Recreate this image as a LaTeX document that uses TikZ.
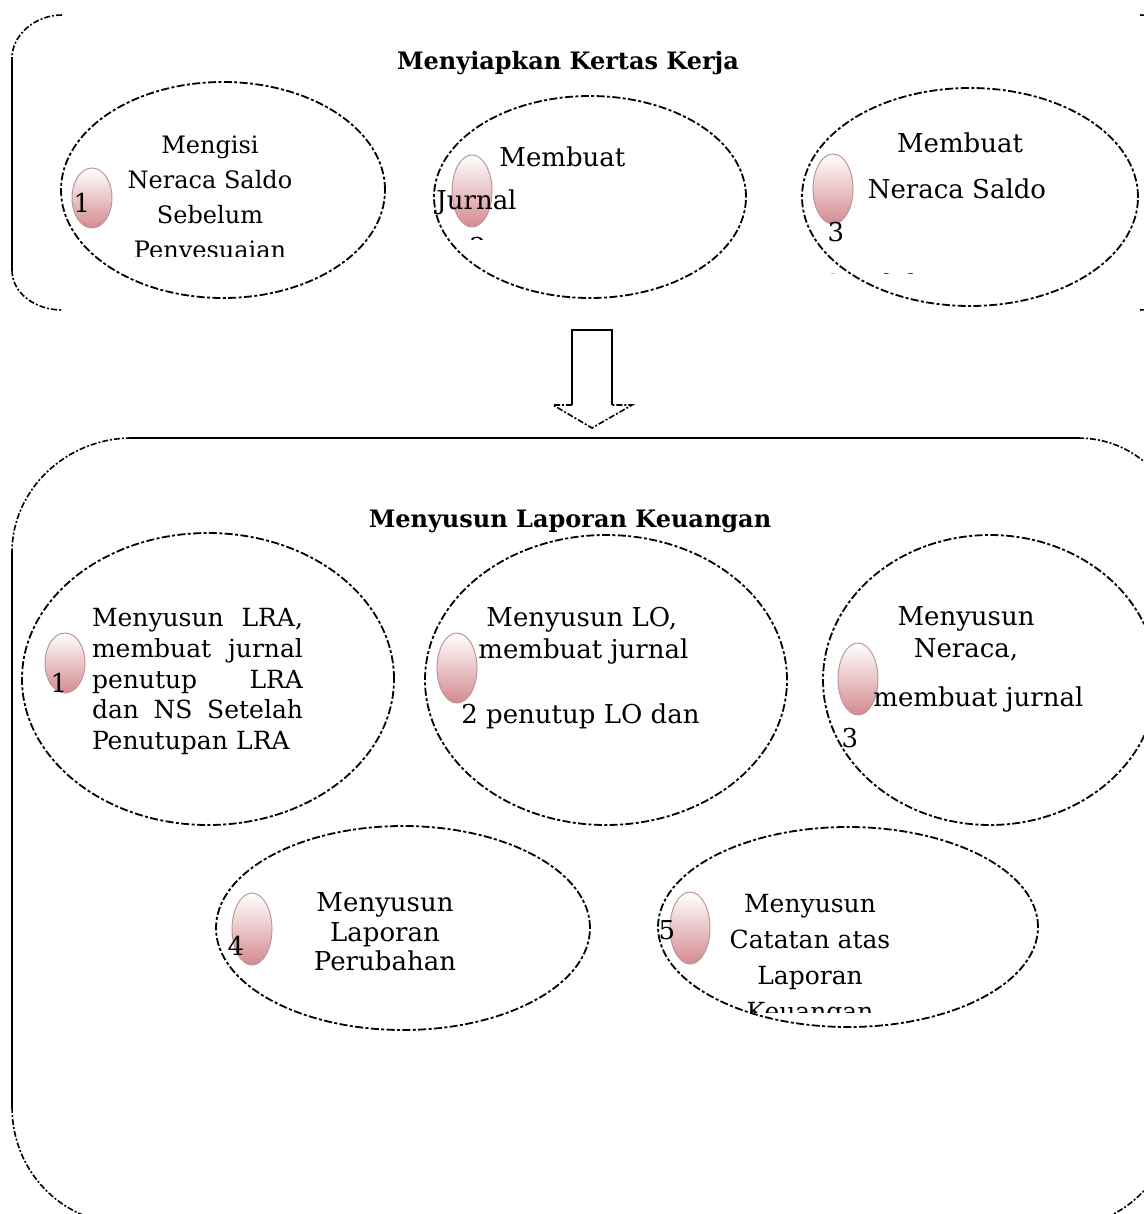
\documentclass[tikz,border=0pt]{standalone}
\usepackage{fontspec}
\setmainfont{DejaVu Serif}
\usetikzlibrary{shapes.geometric}

\definecolor{beadpink}{RGB}{212,138,144}
\definecolor{beadedge}{RGB}{188,150,156}

\tikzset{
  stage/.style={draw, ellipse, line width=0.9pt, dash pattern=on 4pt off 1.2pt on 1.5pt off 1.2pt, inner sep=0pt},
  bead/.style={ellipse, draw=beadedge, line width=0.5pt, top color=white, bottom color=beadpink, minimum width=20pt, minimum height=35pt, inner sep=0pt},
  txt/.style={font=\fontsize{13}{17.5}\selectfont, align=center, inner sep=0pt},
  heading/.style={font=\fontsize{12}{14}\selectfont\bfseries, inner sep=0pt},
  frameline/.style={line width=0.8pt},
  framecurve/.style={line width=0.8pt, dash pattern=on 3pt off 1pt on 1pt off 1pt},
}

\begin{document}
\begin{tikzpicture}[x=0.5pt, y=-0.5pt]
  \clip (0,0) rectangle (1144,1214);

  % Frames
  \draw[framecurve] (62,15) .. controls (35,15) and (12,35) .. (12,58);
  \draw[frameline] (12,58) -- (12,270);
  \draw[framecurve] (12,270) .. controls (12,293) and (35,310) .. (62,310);
  \draw[framecurve] (1140,15) .. controls (1165,15) and (1185,35) .. (1185,58);
  \draw[framecurve] (1140,310) .. controls (1165,310) and (1185,293) .. (1185,270);

  \draw[frameline] (132,438) -- (1078,438);
  \draw[frameline] (12,552) -- (12,1107);
  \draw[framecurve] (132,438) .. controls (66,438) and (12,490) .. (12,552);
  \draw[framecurve] (1078,438) .. controls (1140,438) and (1185,490) .. (1185,552);
  \draw[framecurve] (12,1107) .. controls (12,1170) and (60,1222) .. (125,1224);
  \draw[framecurve] (1185,1085) .. controls (1185,1150) and (1140,1222) .. (1075,1224);

  % Block arrow
  \draw[frameline] (572,405) -- (572,330) -- (612,330) -- (612,405);
  \draw[framecurve] (572,405) -- (553,405) -- (592,428) -- (632,405) -- (612,405);

  % Headings
  \node[heading] (kertas) at (568,63) {Menyiapkan Kertas Kerja};
  \node[heading] (laporan) at (570,521) {Menyusun Laporan Keuangan};

  % Stage ellipses: name/x/y/half width/half height
  \foreach \name/\x/\y/\w/\h in {s1/223/190/162/108, s2/590/197/156/101, s3/970/197/168/109,
      s4/208/679/186/146, s5/606/680/181/145, s6/990/680/167/145,
      s7/403/928/187/102, s8/848/927/190/100} {
    \node[stage, minimum width=\w pt, minimum height=\h pt] (\name) at (\x,\y) {};
  }

  % Beads
  \foreach \name/\x/\y/\h in {b1/92/198/30, b2/472/191/36, b3/833/189/35, b4/65/663/30,
      b5/457/668/35, b6/858/679/36, b7/252/929/36, b8/690/928/36} {
    \node[bead, minimum height=\h pt] (\name) at (\x,\y) {};
  }

  % Texts of the first stage
  \begin{scope}
    \clip (0,0) rectangle (1144,256);
    \node[txt, font=\fontsize{12}{17.5}\selectfont] (t1) at (210,200) {Mengisi\\Neraca Saldo\\Sebelum\\Penyesuaian};
  \end{scope}
  \node[txt] (n1) at (82,203) {1};

  \node[txt, anchor=west] (t2a) at (499,157) {Membuat};
  \node[txt, anchor=west] (t2b) at (436,202) {Jurnal};
  \begin{scope}
    \clip (0,0) rectangle (1144,240);
    \node[txt] (n2) at (478,247) {2};
  \end{scope}

  \node[txt] (t3a) at (960,143) {Membuat};
  \node[txt] (t3b) at (957,189) {Neraca Saldo};
  \node[txt] (n3) at (836,232) {3};
  \begin{scope}
    \clip (0,0) rectangle (1144,273);
    \node[txt, anchor=west] (t3c) at (824,284) {Setelah};
  \end{scope}

  % Texts of the second stage
  \node[txt, text width=105.5pt, align=left, font=\fontsize{12.5}{15.4}\selectfont] (t4) at (197.5,681.5)
    {Menyusun\hfill LRA,\\ membuat\hfill jurnal\\ penutup\hfill LRA\\ dan\hfill NS\hfill Setelah\\ Penutupan LRA};
  \node[txt] (n4) at (59,683) {1};

  \node[txt, anchor=west] (t5a) at (486,620) {Menyusun LO,};
  \node[txt, anchor=west] (t5b) at (478,652) {membuat jurnal};
  \node[txt, anchor=west] (t5c) at (461,716) {2 penutup LO dan};

  \node[txt] (t6a) at (966,619) {Menyusun};
  \node[txt] (t6b) at (966,650) {Neraca,};
  \node[txt, anchor=west] (t6c) at (873,700) {membuat jurnal};
  \node[txt] (n6) at (850,738) {3};

  \node[txt, font=\fontsize{13}{14.8}\selectfont] (t7) at (385,932) {Menyusun\\Laporan\\Perubahan};
  \node[txt] (n7) at (236,946) {4};

  \begin{scope}
    \clip (0,0) rectangle (1144,1012);
    \node[txt, font=\fontsize{12.5}{18}\selectfont] (t8) at (810,960) {Menyusun\\Catatan atas\\Laporan\\Keuangan};
  \end{scope}
  \node[txt] (n8) at (667,930) {5};
\end{tikzpicture}
\end{document}
